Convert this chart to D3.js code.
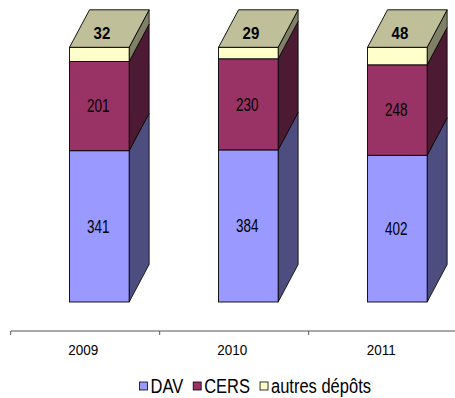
<!DOCTYPE html>
<html>
<head>
<meta charset="utf-8">
<script src="https://cdn.jsdelivr.net/npm/d3@7"></script>
<style>
  html, body { margin: 0; padding: 0; background: #fff; }
  svg { display: block; font-family: "Liberation Sans", Arial, sans-serif; }
</style>
</head>
<body>
<svg id="chart" width="455" height="398"></svg>
<script>
// Dépôts par année (valeurs affichées), empilés en 100 %
const years = ["2009", "2010", "2011"];
const seriesNames = ["DAV", "CERS", "autres dépôts"];
const dav = [341, 384, 402];
const cers = [201, 230, 248];
const autres = [32, 29, 48];
const frontColors = ["#9999FF", "#993366", "#FFFFCC"];

const svg = d3.select("#chart");

const x = d3.scaleBand().domain(years).range([10.7, 457.7]);
const y = d3.scaleLinear().domain([0, 1]).range([302, 47.3]);
const dx = 20, dy = -37.5;            // 3D depth offset

const rows = years.map((yr, i) => ({ year: yr, DAV: dav[i], CERS: cers[i], "autres dépôts": autres[i] }));
const stack = d3.stack().keys(seriesNames).offset(d3.stackOffsetExpand);
const layers = stack(rows);

const shade = (c, k) => { const r = d3.rgb(c); return d3.rgb(r.r * k, r.g * k, r.b * k).formatHex(); };

const bars = svg.append("g");
years.forEach((yr, i) => {
  const bw = x.bandwidth();
  const x0 = x(yr) + bw * 0.395, x1 = x0 + bw * 0.4;
  const g = bars.append("g");
  layers.forEach((layer, s) => {
    const yb = y(layer[i][0]), yt = y(layer[i][1]);
    const col = frontColors[s];
    // side face
    g.append("path")
      .attr("d", `M${x1},${yb}L${x1 + dx},${yb + dy}L${x1 + dx},${yt + dy}L${x1},${yt}Z`)
      .attr("fill", shade(col, 0.5)).attr("stroke", "#000").attr("stroke-width", 0.8).attr("stroke-linejoin", "round");
    // front face
    g.append("rect").attr("x", x0).attr("y", yt).attr("width", x1 - x0).attr("height", yb - yt)
      .attr("fill", col).attr("stroke", "#000").attr("stroke-width", 0.9);
    if (s === layers.length - 1) {
      // top face
      g.append("path")
        .attr("d", `M${x0},${yt}L${x0 + dx},${yt + dy}L${x1 + dx},${yt + dy}L${x1},${yt}Z`)
        .attr("fill", shade(col, 0.75)).attr("stroke", "#000").attr("stroke-width", 0.9).attr("stroke-linejoin", "round");
    }
  });
  // value labels
  const vals = [dav[i], cers[i]];
  vals.forEach((v, s) => {
    const yb = y(layers[s][i][0]), yt = y(layers[s][i][1]);
    g.append("text")
      .attr("transform", `translate(${(x0 + x1) / 2 - 1},${(yb + yt) / 2}) scale(1,1.3)`)
      .attr("text-anchor", "middle").attr("dominant-baseline", "central")
      .attr("font-size", 13.5).attr("fill", "#000").text(v);
  });
  const yTop = y(1);
  g.append("text")
    .attr("transform", `translate(${(x0 + x1) / 2 + dx * 0.13},${yTop + dy * 0.38}) scale(1,1.15)`)
    .attr("text-anchor", "middle").attr("dominant-baseline", "central")
    .attr("font-size", 15).attr("font-weight", "bold").attr("fill", "#000").text(autres[i]);
});

// category axis
const axisY = 331;
const axis = svg.append("g");
axis.append("line").attr("x1", x.range()[0]).attr("x2", 455).attr("y1", axisY).attr("y2", axisY)
  .attr("stroke", "#555").attr("stroke-width", 1);
years.forEach(yr => {
  axis.append("line").attr("x1", x(yr)).attr("x2", x(yr)).attr("y1", axisY).attr("y2", axisY + 4)
    .attr("stroke", "#555").attr("stroke-width", 1);
  axis.append("text")
    .attr("transform", `translate(${x(yr) + x.bandwidth() / 2 - 2},${349.5}) scale(1,1.12)`)
    .attr("text-anchor", "middle").attr("dominant-baseline", "central")
    .attr("font-size", 13.5).attr("fill", "#000").text(yr);
});

// legend
const legend = svg.append("g");
let lx = 139.5;
const ly = 386;
seriesNames.forEach((name, s) => {
  legend.append("rect").attr("x", lx).attr("y", ly - 4).attr("width", 8).attr("height", 8)
    .attr("fill", frontColors[s]).attr("stroke", "#000").attr("stroke-width", 0.8);
  const t = legend.append("text")
    .attr("transform", `translate(${lx + 11},${ly}) scale(1,1.2)`)
    .attr("dominant-baseline", "central")
    .attr("font-size", 16.5).attr("fill", "#000").text(name);
  lx += 11 + t.node().getComputedTextLength() + 10;
});
</script>
</body>
</html>
